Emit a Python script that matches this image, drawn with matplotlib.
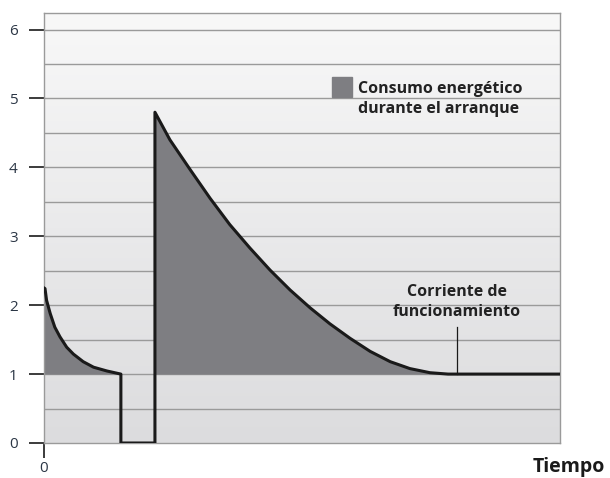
import numpy as np
import matplotlib
matplotlib.use("Agg")
import matplotlib.pyplot as plt
from matplotlib.colors import LinearSegmentedColormap

# Data (time in arbitrary units 0..100, current multiples)
decay1_t = [0.0, 0.2, 0.5, 1.2, 2.1, 3.1, 4.4, 5.7, 7.6, 9.6, 12.2, 14.9]
decay1_i = [2.25, 2.24, 2.07, 1.88, 1.68, 1.54, 1.39, 1.29, 1.18, 1.10, 1.045, 1.0]
gap_t = [14.9, 14.9, 21.5, 21.5]
gap_i = [1.0, 0.0, 0.0, 4.8]
decay2_t = [21.5, 24.4, 28.3, 32.2, 36.0, 39.9, 43.8, 47.7, 51.6, 55.4,
            59.3, 63.2, 67.1, 70.9, 74.8, 78.3, 79.7]
decay2_i = [4.8, 4.40, 3.97, 3.55, 3.17, 2.83, 2.51, 2.22, 1.96, 1.73,
            1.52, 1.33, 1.18, 1.08, 1.02, 1.0, 1.0]
run_t = [79.7, 100.0]
run_i = [1.0, 1.0]

yticks = [0, 1, 2, 3, 4, 5, 6]
xticks = [0]
legend_label = "Consumo energético\ndurante el arranque"
annot_label = "Corriente de\nfuncionamiento"
annot_x = 80.0
xlabel = "Tiempo"

fig = plt.figure(figsize=(6.10, 4.78), dpi=100)
ax = fig.add_axes([44/610, 1-443/478, (560-44)/610, (443-13)/478])
ax.set_xlim(0, 100)
ax.set_ylim(0, 6.24)

# gradient background
cmap = LinearSegmentedColormap.from_list("bg", ["#dcdcde", "#f8f8f8"])
grad = np.linspace(0, 1, 256).reshape(-1, 1)
ax.imshow(grad, extent=[0, 100, 0, 6.24], origin="lower", cmap=cmap,
          aspect="auto", zorder=0)

# gridlines every 0.5
for y in np.arange(0.5, 6.01, 0.5):
    ax.axhline(y, color="#9a9a9a", lw=1.0, zorder=1)

fill_col = "#7e7e82"
ax.fill_between(decay1_t, decay1_i, 1.0, color=fill_col, lw=0, zorder=2)
ax.fill_between(decay2_t, decay2_i, 1.0, color=fill_col, lw=0, zorder=2)

t = decay1_t + gap_t[1:] + decay2_t[1:] + run_t[1:]
i = decay1_i + gap_i[1:] + decay2_i[1:] + run_i[1:]
ax.plot(t, i, color="#1a1a1a", lw=2.2, solid_joinstyle="round", zorder=3)

txt_kw = dict(fontsize=11.5, fontweight="bold", family="Open Sans",
              color="#222222", linespacing=1.3, zorder=4)

# annotation
ax.plot([annot_x, annot_x], [1.0, 1.68], color="#1a1a1a", lw=0.9, zorder=3)
ax.text(annot_x, 2.05, annot_label, ha="center", va="center", **txt_kw)

# legend patch
ax.add_patch(plt.Rectangle((55.8, 5.02), 3.9, 0.29, color=fill_col, zorder=4))
ax.text(60.8, 4.99, legend_label, ha="left", va="center", **txt_kw)

# spines and ticks
for s in ["top", "right", "left", "bottom"]:
    ax.spines[s].set_color("#9a9a9a")
    ax.spines[s].set_linewidth(1.0)
ax.set_yticks(yticks)
ax.set_xticks(xticks)
ax.tick_params(axis="both", direction="out", length=11, width=1.2,
               color="#1a1a1a", labelsize=11, labelcolor="#2b3645")
ax.tick_params(axis="y", pad=8)
ax.tick_params(axis="x", pad=2)
for lab in ax.get_yticklabels() + ax.get_xticklabels():
    lab.set_family("Open Sans")

fig.text(569/610, 1-467/478, xlabel, ha="center", va="center",
         fontsize=14, fontweight="bold", family="Open Sans", color="#1a1a1a")

fig.savefig("out.png", dpi=100)
